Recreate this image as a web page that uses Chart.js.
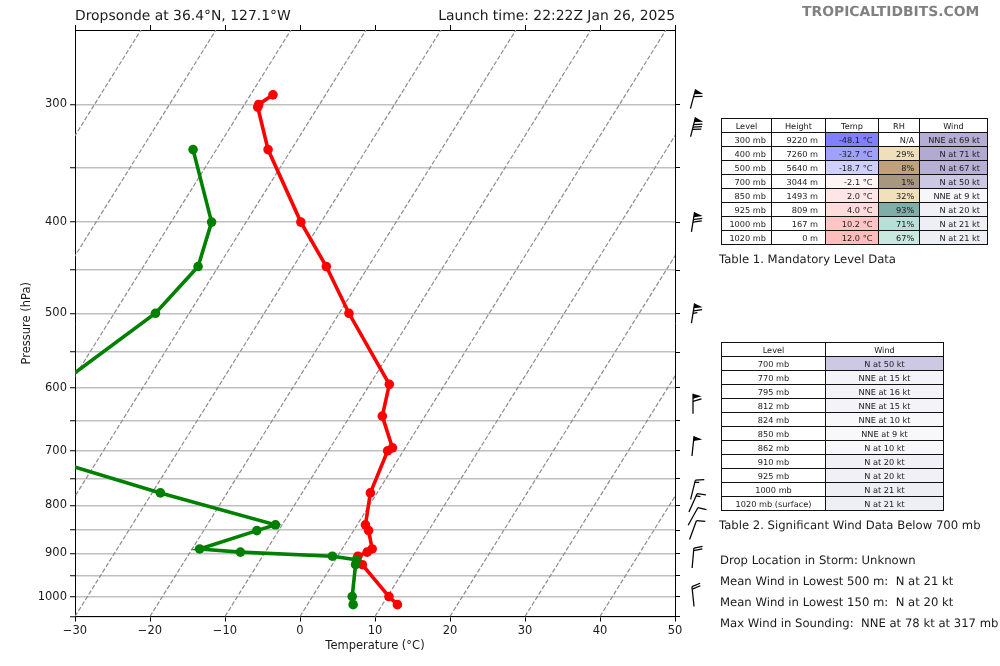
<!DOCTYPE html>
<html>
<head>
<meta charset="utf-8">
<script src="https://cdn.jsdelivr.net/npm/chart.js@4/dist/chart.umd.min.js"></script>
<style>
  body { margin: 0; background: #fff; font-family: "DejaVu Sans", sans-serif; color: #1a1a1a; text-rendering: geometricPrecision; }
  #wrap { position: relative; width: 1000px; height: 666px; overflow: hidden; }
  #skewt { position: absolute; left: 0; top: 0; }
  .txt { position: absolute; white-space: pre; line-height: 1; }
  table { position: absolute; border-collapse: collapse; table-layout: fixed; font-size: 8.2px; }
  td { border: 1px solid #111; height: 13px; padding: 0; box-sizing: border-box; text-align: right; overflow: hidden; white-space: nowrap; line-height: 12px; }
  td.c { text-align: center; }
</style>
</head>
<body>
<div id="wrap">
  <canvas id="skewt" width="1000" height="666"></canvas>
  <div class="txt" style="left:75px;top:10px;font-size:13.9px">Dropsonde at 36.4°N, 127.1°W</div>
  <div class="txt" style="right:325px;top:10px;font-size:13.9px">Launch time: 22:22Z Jan 26, 2025</div>
  <div class="txt" style="left:802px;top:6px;font-size:13.9px;font-weight:bold;color:#808080">TROPICALTIDBITS.COM</div>
  <table id="table1" style="left:721px;top:118px"></table>
  <div class="txt" style="left:719px;top:254px;font-size:11.65px">Table 1. Mandatory Level Data</div>
  <table id="table2" style="left:721px;top:342px"></table>
  <div class="txt" style="left:719px;top:520px;font-size:11.65px">Table 2. Significant Wind Data Below 700 mb</div>
  <div id="notes"></div>
</div>
<script>
// Sounding, real temperature in C (skew is added when plotting)
const tempPressure = [293, 300, 302, 335, 400, 446, 500, 595, 643, 695, 700, 776, 839, 851, 890, 897, 906, 925, 1000, 1020];
const tempValues = [-47.0, -48.1, -48.0, -43.1, -32.7, -25.6, -18.7, -7.4, -5.7, -1.7, -2.1, -0.9, 1.1, 2.0, 4.0, 3.6, 2.7, 4.0, 10.2, 12.0];
const dewPressure = [335, 400, 446, 500, 595, 700, 776, 839, 851, 890, 897, 906, 914, 925, 1000, 1020];
const dewValues = [-53.1, -44.6, -42.7, -44.5, -51.4, -51.0, -28.9, -10.9, -12.9, -19.0, -13.3, -0.7, 2.8, 3.1, 5.3, 6.1];

const isotherms = [-70, -60, -50, -40, -30, -20, -10, 0, 10, 20, 30, 40, 50];
const pressureTicks = [300, 350, 400, 450, 500, 550, 600, 650, 700, 750, 800, 850, 900, 950, 1000, 1050];

// Wind barbs
const barbLevels = [296, 317, 400, 500, 624, 692, 770, 795, 822, 850, 910, 1000];
const barbDirs = [15, 14, 9, 9, 0, 6, 14, 24, 29, 20, 5, 354];
const barbSpeeds = [60, 80, 70, 65, 60, 50, 15, 15, 10, 10, 20, 20];

// Table 1
const t1Head = ["Level", "Height", "Temp", "RH", "Wind"];
const t1Level = ["300 mb", "400 mb", "500 mb", "700 mb", "850 mb", "925 mb", "1000 mb", "1020 mb"];
const t1Height = ["9220 m", "7260 m", "5640 m", "3044 m", "1493 m", "809 m", "167 m", "0 m"];
const t1Temp = ["-48.1 °C", "-32.7 °C", "-18.7 °C", "-2.1 °C", "2.0 °C", "4.0 °C", "10.2 °C", "12.0 °C"];
const t1Rh = ["N/A", "29%", "8%", "1%", "32%", "93%", "71%", "67%"];
const t1Wind = ["NNE at 69 kt", "N at 71 kt", "N at 67 kt", "N at 50 kt", "NNE at 9 kt", "N at 20 kt", "N at 21 kt", "N at 21 kt"];
const t1TempColors = ["#8080ff", "#a0a0ff", "#d0d0ff", "#fff5f5", "#ffe6e6", "#ffdcdc", "#ffc4c4", "#ffbcbc"];
const t1RhColors = ["#ffffff", "#efdfbb", "#bfa27c", "#a8977f", "#f0e0bb", "#7fada8", "#b8e0d8", "#c8e8e0"];
const t1WindColors = ["#b6add4", "#b3aad2", "#b8afd5", "#ccc8e4", "#f7f7fb", "#f0f0f6", "#eeeef5", "#eeeef5"];
const t1RightPad = [5, 7, 5.5, 4.7, 7];

// Table 2
const t2Level = ["700 mb", "770 mb", "795 mb", "812 mb", "824 mb", "850 mb", "862 mb", "910 mb", "925 mb", "1000 mb", "1020 mb (surface)"];
const t2Wind = ["N at 50 kt", "NNE at 15 kt", "NNE at 16 kt", "NNE at 15 kt", "NNE at 10 kt", "NNE at 9 kt", "N at 10 kt", "N at 20 kt", "N at 20 kt", "N at 21 kt", "N at 21 kt"];
const t2WindColors = ["#cdc9e4", "#f3f3f8", "#f3f3f8", "#f3f3f8", "#f8f8fb", "#f8f8fb", "#f8f8fb", "#f0f0f6", "#f0f0f6", "#eeeef5", "#eeeef5"];

const notes = [
  "Drop Location in Storm: Unknown",
  "Mean Wind in Lowest 500 m:  N at 21 kt",
  "Mean Wind in Lowest 150 m:  N at 20 kt",
  "Max Wind in Sounding:  NNE at 78 kt at 317 mb"
];

const pBottom = 1050;
const pTop = 250;
const skew = 34; // C of shift per ln(p) on the x axis
const barbAxisX = 52.4;

function skewX(t, p) {
  return t + skew * Math.log(pBottom / p);
}

function zip(pres, vals) {
  return pres.map((p, i) => ({ x: skewX(vals[i], p), y: p }));
}

// Builds a table from columns, colors is {columnIndex: colorArray}
function fillTable(id, widths, head, cols, colors, pads) {
  const table = document.getElementById(id);
  table.style.width = widths.reduce((a, b) => a + b, 0) + "px";
  const cg = document.createElement("colgroup");
  widths.forEach(w => {
    const c = document.createElement("col");
    c.style.width = w + "px";
    cg.appendChild(c);
  });
  table.appendChild(cg);
  const addRow = (cells, rowIdx) => {
    const tr = document.createElement("tr");
    cells.forEach((txt, c) => {
      const td = document.createElement("td");
      td.textContent = txt;
      tr.style.height = "14px";
      if (pads && rowIdx >= 0) {
        td.style.paddingRight = pads[c] + "px";
      } else {
        td.className = "c";
      }
      if (rowIdx >= 0 && colors[c]) td.style.background = colors[c][rowIdx];
      tr.appendChild(td);
    });
    table.appendChild(tr);
  };
  addRow(head, -1);
  cols[0].forEach((_, r) => addRow(cols.map(col => col[r]), r));
}

fillTable("table1", [50, 54, 53, 41, 68], t1Head, [t1Level, t1Height, t1Temp, t1Rh, t1Wind], { 2: t1TempColors, 3: t1RhColors, 4: t1WindColors }, t1RightPad);
fillTable("table2", [104, 118], ["Level", "Wind"], [t2Level, t2Wind], { 1: t2WindColors }, null);

notes.forEach((line, i) => {
  const d = document.createElement("div");
  d.className = "txt";
  d.style.cssText = "left:720px;font-size:11.65px;top:" + (554.5 + i * 21) + "px";
  d.textContent = line;
  document.getElementById("wrap").appendChild(d);
});

// matplotlib style barb: staff pivots at the middle, flags first from the tip
function drawBarb(ctx, cx, cy, dir, speed) {
  const len = 20, h = 8.5, w = 5, gap = 2.5;
  let left = Math.round(speed / 5) * 5;
  const flags = Math.floor(left / 50);
  left -= flags * 50;
  const full = Math.floor(left / 10);
  const half = left % 10 >= 5;
  ctx.save();
  ctx.translate(cx, cy);
  ctx.rotate(dir * Math.PI / 180);
  ctx.strokeStyle = "#000";
  ctx.fillStyle = "#000";
  ctx.lineWidth = 1.25;
  ctx.beginPath();
  ctx.moveTo(0, len / 2);
  ctx.lineTo(0, -len / 2);
  ctx.stroke();
  let y = -len / 2;
  for (let i = 0; i < flags; i++) {
    ctx.beginPath();
    ctx.moveTo(0, y);
    ctx.lineTo(h, y + w / 2);
    ctx.lineTo(0, y + w);
    ctx.closePath();
    ctx.fill();
    y += w + gap;
  }
  for (let i = 0; i < full; i++) {
    ctx.beginPath();
    ctx.moveTo(0, y);
    ctx.lineTo(h, y - w / 2);
    ctx.stroke();
    y += gap;
  }
  if (half) {
    ctx.beginPath();
    ctx.moveTo(0, y);
    ctx.lineTo(h / 2, y - w / 4);
    ctx.stroke();
  }
  ctx.restore();
}

const barbPlugin = {
  id: "barbs",
  afterDatasetsDraw(chart) {
    const xs = chart.scales.x, ys = chart.scales.y;
    barbLevels.forEach((p, i) => {
      drawBarb(chart.ctx, xs.getPixelForValue(barbAxisX), ys.getPixelForValue(p), barbDirs[i], barbSpeeds[i]);
    });
  }
};

const isoSets = isotherms.map(t => ({
  data: [{ x: skewX(t, pBottom), y: pBottom }, { x: skewX(t, pTop), y: pTop }],
  borderColor: "#8c8c8c",
  borderWidth: 1.2,
  borderDash: [4.5, 2],
  pointRadius: 0,
  showLine: true,
  order: 3
}));

const tickFont = { family: "DejaVu Sans", size: 11.5 };

const chart = new Chart(document.getElementById("skewt").getContext("2d"), {
  type: "scatter",
  data: {
    datasets: isoSets.concat([
      {
        label: "Dewpoint",
        data: zip(dewPressure, dewValues),
        borderColor: "#008000",
        backgroundColor: "#008000",
        borderWidth: 3.6,
        pointRadius: 4.8,
        pointBorderWidth: 0,
        showLine: true,
        order: 1
      },
      {
        label: "Temperature",
        data: zip(tempPressure, tempValues),
        borderColor: "#ff0000",
        backgroundColor: "#ff0000",
        borderWidth: 3.6,
        pointRadius: 4.8,
        pointBorderWidth: 0,
        showLine: true,
        order: 2
      }
    ])
  },
  options: {
    responsive: false,
    animation: false,
    layout: { padding: 0 },
    plugins: { legend: { display: false }, tooltip: { enabled: false } },
    scales: {
      x: {
        type: "linear",
        position: "bottom",
        min: -30,
        max: 50,
        afterFit: s => { s.height = 49.5; },
        grid: { drawOnChartArea: false, tickColor: "#000", tickLength: 5 },
        border: { color: "#000", width: 1 },
        ticks: {
          stepSize: 10,
          color: "#1a1a1a",
          font: tickFont,
          padding: 3,
          maxRotation: 0,
          callback: v => (v < 0 ? "\u2212" + (-v) : String(v))
        },
        title: { display: true, text: "Temperature (°C)", color: "#1a1a1a", font: tickFont, padding: { top: 2, bottom: 13 } }
      },
      x2: {
        type: "linear",
        axis: "x",
        position: "top",
        min: -30,
        max: 50,
        afterFit: s => { s.height = 30; },
        grid: { drawOnChartArea: false, tickColor: "#000", tickLength: 5 },
        border: { color: "#000", width: 1 },
        ticks: { display: false, stepSize: 10 }
      },
      y: {
        type: "logarithmic",
        position: "left",
        reverse: true,
        min: pTop,
        max: pBottom,
        afterFit: s => { s.width = 75; },
        afterBuildTicks: s => { s.ticks = pressureTicks.map(v => ({ value: v })); },
        grid: { color: "#c0c0c0", lineWidth: 1.5, tickColor: "#000", tickWidth: 1, tickLength: 5 },
        border: { color: "#000", width: 1 },
        ticks: {
          autoSkip: false,
          color: "#1a1a1a",
          font: tickFont,
          padding: 3,
          callback: v => (v % 100 === 0 ? String(v) : "")
        },
        title: { display: true, text: "Pressure (hPa)", color: "#1a1a1a", font: tickFont, padding: { top: 20, bottom: 0 } }
      },
      y2: {
        type: "logarithmic",
        axis: "y",
        position: "right",
        reverse: true,
        min: pTop,
        max: pBottom,
        afterFit: s => { s.width = 325; },
        afterBuildTicks: s => { s.ticks = pressureTicks.map(v => ({ value: v })); },
        grid: { drawOnChartArea: false, tickColor: "#000", tickWidth: 1, tickLength: 5 },
        border: { color: "#000", width: 1 },
        ticks: { display: false, autoSkip: false }
      }
    }
  },
  plugins: [barbPlugin]
});
</script>
</body>
</html>
